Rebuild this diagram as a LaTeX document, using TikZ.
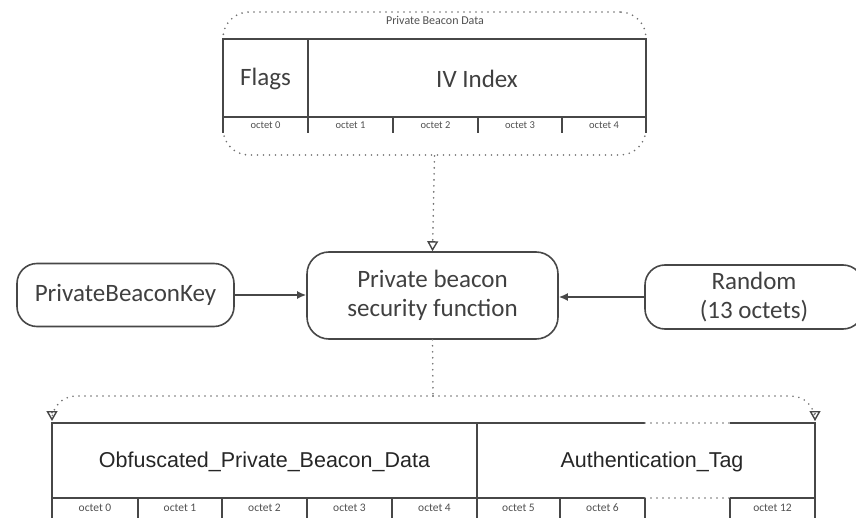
\documentclass[tikz,border=0pt]{standalone}
\usepackage{fontspec}
\setmainfont{Carlito}
\newfontfamily\arialf{Liberation Sans}
\usetikzlibrary{arrows.meta}
\definecolor{linec}{HTML}{474747}
\definecolor{txtc}{HTML}{404040}
\definecolor{dotc}{HTML}{707070}
\definecolor{octc}{HTML}{505050}
\begin{document}
\begin{tikzpicture}[x=1pt,y=-1pt,
  solidl/.style={draw=linec, line width=1.6pt},
  dotl/.style={draw=dotc, line width=1.8pt, dash pattern=on 0pt off 6pt, line cap=round},
  opentip/.style={-{Triangle[open,length=10pt,width=11pt,line width=1.4pt,color=linec]}},
  filltip/.style={-{Latex[length=9pt,width=8pt,color=linec]}},
  rbox/.style={draw=linec, line width=1.6pt, rounded corners=20pt, inner sep=0pt, align=center,
    text=txtc, font=\fontsize{25}{29}\selectfont},
  bigtxt/.style={text=txtc, font=\fontsize{25}{29}\selectfont, inner sep=0pt},
  octtop/.style={text=octc, font=\fontsize{10.5}{12}\selectfont, inner sep=0pt},
  octbot/.style={text=octc, font=\fontsize{11.5}{13}\selectfont, inner sep=0pt},
  bottxt/.style={text=black!85, font=\arialf\fontsize{21.5}{25}\selectfont, inner sep=0pt}
]
\useasboundingbox (0,0) rectangle (856,518);
\clip (0,0) rectangle (856,518);

% ---------- top: Private Beacon Data ----------
\node[draw=dotc, line width=1.8pt, dash pattern=on 0pt off 6pt, line cap=round,
      rounded corners=26pt, minimum width=423pt, minimum height=143pt, inner sep=0pt]
      (pbd) at (434.5,83.5) {};
\node[text=octc, font=\fontsize{12}{14}\selectfont, inner sep=0pt] (pbdlab) at (435,20) {Private Beacon Data};

\draw[solidl] (223,133) -- (223,39) -- (646,39) -- (646,133);
\draw[solidl] (223,117) -- (646,117);
\draw[solidl] (308,39) -- (308,133);
\draw[solidl] (393,117) -- (393,133);
\draw[solidl] (478,117) -- (478,133);
\draw[solidl] (562,117) -- (562,133);

\node[bigtxt] (flags) at (265.5,79) {Flags};
\node[bigtxt] (ivindex) at (477,79) {IV Index};

\node[octtop] (t0) at (265.5,125) {octet 0};
\node[octtop] (t1) at (350.5,125) {octet 1};
\node[octtop] (t2) at (435.5,125) {octet 2};
\node[octtop] (t3) at (520,125) {octet 3};
\node[octtop] (t4) at (604,125) {octet 4};

% ---------- middle ----------
\node[rbox, minimum width=251pt, minimum height=87pt, rounded corners=22pt] (fn) at (432.5,295.5)
  {Private beacon\\security function};
\node[rbox, minimum width=217pt, minimum height=63pt] (key) at (125.5,295) {PrivateBeaconKey};
\node[rbox, minimum width=218pt, minimum height=64pt] (rnd) at (754,297) {Random\\(13 octets)};

\draw[solidl, filltip] (key.east) -- (fn.west |- key.east);
\draw[solidl, filltip] (rnd.west) -- (fn.east |- rnd.west);
\draw[dotl, opentip] (pbd.south) -- (fn.north);

% ---------- bottom ----------
\coordinate (junc) at (433,396);
\coordinate (bl) at (52,421);
\coordinate (br) at (815,421);
\draw[dotl] (fn.south) -- (junc);
\draw[dotl, opentip, rounded corners=24pt] (junc) -| (bl);
\draw[dotl, opentip, rounded corners=24pt] (junc) -| (br);

\draw[solidl] (52,518) -- (52,423) -- (645,423);
\draw[solidl] (730,423) -- (815,423) -- (815,518);
\draw[dotl] (645,423) -- (730,423);
\draw[solidl] (52,498) -- (645,498);
\draw[solidl] (730,498) -- (815,498);
\draw[dotl] (645,498) -- (730,498);
\draw[solidl] (477,423) -- (477,518);
\foreach \xx in {138,222,307,392,560,645,730}
  \draw[solidl] (\xx,498) -- (\xx,518);

\node[bottxt] (obf) at (264.5,462) {Obfuscated\_Private\_Beacon\_Data};
\node[bottxt] (auth) at (652,462) {Authentication\_Tag};

\node[octbot] (b0) at (95,508) {octet 0};
\node[octbot] (b1) at (180,508) {octet 1};
\node[octbot] (b2) at (264.5,508) {octet 2};
\node[octbot] (b3) at (349.5,508) {octet 3};
\node[octbot] (b4) at (434.5,508) {octet 4};
\node[octbot] (b5) at (518.5,508) {octet 5};
\node[octbot] (b6) at (602.5,508) {octet 6};
\node[octbot] (b12) at (772.5,508) {octet 12};
\end{tikzpicture}
\end{document}
